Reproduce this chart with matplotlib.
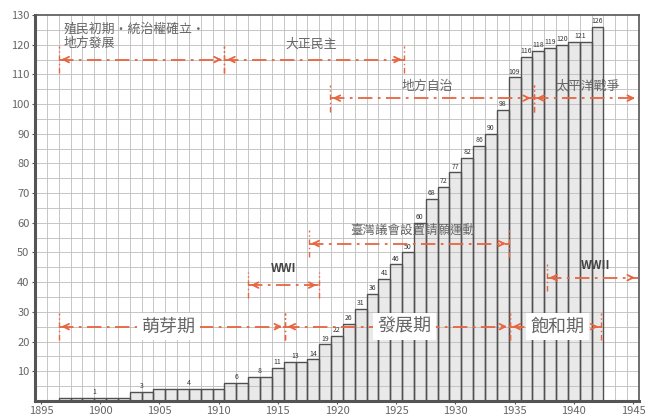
import matplotlib.pyplot as plt
import numpy as np

plt.rcParams['font.family'] = ['Noto Sans CJK TC', 'DejaVu Sans']

# Data
years = list(range(1897, 1943))
values = [1, 1, 1, 1, 1, 1,          # 1897-1902
          3, 3,                      # 1903-1904
          4, 4, 4, 4, 4, 4,          # 1905-1910
          6, 6, 8, 8,                # 1911-1914
          11, 13, 13, 14,            # 1915-1918
          19, 22, 26, 31, 36, 41, 46, 50, 60, 68,      # 1919-1928
          72, 77, 82, 86, 90, 98, 109, 116, 118, 119,  # 1929-1938
          120, 121, 121, 126]                          # 1939-1942

x_ticks = list(range(1895, 1950, 5))
y_ticks = list(range(10, 140, 10))

RED = '#e8653f'
GREY_TXT = '#666666'

fig = plt.figure(figsize=(6.48, 4.18), dpi=100)
ax = fig.add_axes([0.054, 0.041, 0.932, 0.923])

ax.set_xlim(1894.5, 1945.5)
ax.set_ylim(0, 130)

ax.bar(years, values, width=1.0, color='#d8d8d8', alpha=0.55, zorder=1)

# grid (shows through the bars as in the original)
for yr in range(1895, 1946):
    ax.axvline(yr + 0.5, color='#bdbdbd', lw=0.6, zorder=2)
for v in range(5, 130, 5):
    ax.axhline(v, color='#bdbdbd', lw=0.6, zorder=2)

ax.bar(years, values, width=1.0, color='none', edgecolor='#505050',
       linewidth=1.0, zorder=3)

# value labels, one per run of equal values
i = 0
while i < len(values):
    j = i
    while j + 1 < len(values) and values[j + 1] == values[i]:
        j += 1
    xc = (years[i] + years[j]) / 2
    ax.text(xc, values[i] + 0.6, str(values[i]), ha='center', va='bottom',
            fontsize=5, color='#333333', zorder=4)
    i = j + 1


def span(x0, x1, y, tick0=True, tick1=True, head0=True, head1=True):
    ax.plot([x0, x1], [y, y], color=RED, lw=1.3, ls=(0, (8, 3, 1.5, 3)), zorder=5)
    if head0:
        ax.annotate('', xy=(x0, y), xytext=(x0 + 0.8, y),
                    arrowprops=dict(arrowstyle='->', color=RED, lw=1.3), zorder=5)
    if head1:
        ax.annotate('', xy=(x1, y), xytext=(x1 - 0.8, y),
                    arrowprops=dict(arrowstyle='->', color=RED, lw=1.3), zorder=5)
    for t, on in ((x0, tick0), (x1, tick1)):
        if on:
            ax.plot([t, t], [y - 4.5, y + 4.5], color=RED, lw=1.0,
                    ls=(0, (4, 2, 1, 2)), zorder=5)


FS = 9.3

# top periods
span(1896.5, 1910.5, 115)
ax.text(1896.9, 122.8, '殖民初期・統治權確立・\n地方發展', fontsize=FS, color=GREY_TXT,
        ha='left', va='center', linespacing=1.1, zorder=6)
span(1910.5, 1925.7, 115)
ax.text(1917.8, 120, '大正民主', fontsize=FS, color=GREY_TXT, ha='center', va='center', zorder=6)

span(1919.4, 1936.6, 102)
ax.text(1927.6, 106, '地方自治', fontsize=FS, color=GREY_TXT, ha='center', va='center', zorder=6)
span(1936.6, 1945.4, 102, tick1=False)
ax.text(1941.2, 106, '太平洋戰爭', fontsize=FS, color=GREY_TXT, ha='center', va='center', zorder=6)

span(1917.6, 1934.5, 53)
ax.text(1926.4, 57.4, '臺灣議會設置請願運動', fontsize=9, color=GREY_TXT, ha='center',
        va='center', zorder=6)

span(1912.5, 1918.5, 39)
ax.text(1915.5, 44.5, 'WWI', fontsize=8.5, fontweight='bold', color='#444444',
        ha='center', va='center', zorder=6)
span(1937.7, 1945.4, 41.5, tick1=False)
ax.text(1941.8, 45.5, 'WWII', fontsize=8.5, fontweight='bold', color='#444444',
        ha='center', va='center', zorder=6)

# bottom phases
span(1896.5, 1915.6, 25)
span(1915.6, 1934.6, 25)
span(1934.6, 1942.3, 25)
box = dict(boxstyle='square,pad=0.25', fc='white', ec='none')
ax.text(1905.8, 25, '萌芽期', fontsize=13, color=GREY_TXT, ha='center', va='center',
        bbox=box, zorder=7)
ax.text(1925.7, 25, '發展期', fontsize=13, color=GREY_TXT, ha='center', va='center',
        bbox=box, zorder=7)
ax.text(1938.6, 25, '飽和期', fontsize=13, color=GREY_TXT, ha='center', va='center',
        bbox=box, zorder=7)

ax.set_xticks(x_ticks)
ax.set_xticklabels([str(x) for x in x_ticks], fontsize=8, color=GREY_TXT)
ax.set_yticks(y_ticks)
ax.set_yticklabels([str(y) for y in y_ticks], fontsize=8, color=GREY_TXT)
ax.tick_params(length=2, width=0.8, color='#555555', pad=2)

for s in ax.spines.values():
    s.set_color('#555555')
    s.set_linewidth(1.2)
    s.set_zorder(8)
ax.spines['left'].set_linewidth(2.2)
ax.spines['bottom'].set_linewidth(2.2)

fig.savefig('out.png', dpi=100)
